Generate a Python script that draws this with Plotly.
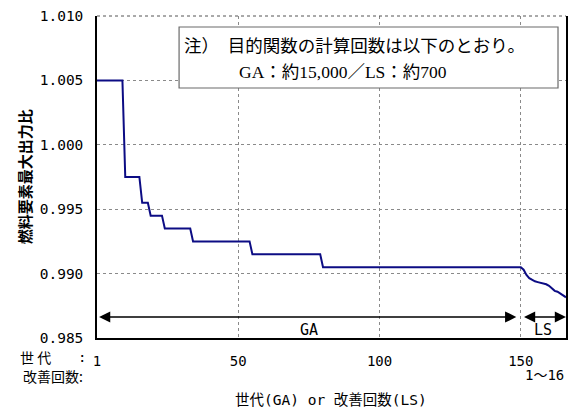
import plotly.graph_objects as go

# GA: generation index at which each improvement of the best individual appears, and its value
ga_improve_step = [0, 10, 16, 19, 24, 34, 55, 80]
ga_improve_value = [1.005, 0.9975, 0.9955, 0.9945, 0.9935, 0.9925, 0.9915, 0.9905]
ga_last_step = 150

# LS: value after each of the 16 local-search improvements
ls_value = [0.99030, 0.98990, 0.98965, 0.98950, 0.98940, 0.98934, 0.98930, 0.98925,
            0.98917, 0.98905, 0.98885, 0.98866, 0.98859, 0.98845, 0.98830, 0.98816]

x_tick_pos = [0, 50, 100, 150]
x_tick_text = ["1", "50", "100", "150"]
y_tick_vals = [0.985, 0.990, 0.995, 1.000, 1.005, 1.010]
y_tick_text = ["0.985", "0.990", "0.995", "1.000", "1.005", "1.010"]

# best-so-far per generation (held constant between improvements)
steps, values = [], []
for g in range(ga_last_step + 1):
    level = ga_improve_value[0]
    for s, v in zip(ga_improve_step, ga_improve_value):
        if g >= s:
            level = v
    steps.append(g)
    values.append(level)
for i, v in enumerate(ls_value, start=1):
    steps.append(ga_last_step + i)
    values.append(v)
x_max = ga_last_step + len(ls_value)

W, H = 575, 410
L, R, T, B = 96.8, 566.5, 16, 338

def px(xp):
    return (xp - L) / (R - L)

def py(yp):
    return (B - yp) / (B - T)

MONO = "DejaVu Sans Mono, Noto Sans CJK JP"
JP = "Noto Sans CJK JP"
SERIF = "Liberation Serif, Noto Sans CJK JP"

fig = go.Figure()
fig.add_trace(go.Scatter(
    x=steps, y=values, mode="lines",
    line=dict(color="#0c0c84", width=2),
    showlegend=False, hoverinfo="skip",
))

def label(xp, yp, text, font, xanchor="center", size=15, **kw):
    return dict(x=px(xp), y=py(yp), xref="paper", yref="paper", text=text,
                xanchor=xanchor, yanchor="middle", showarrow=False,
                font=dict(family=font, size=size, color="#000"), **kw)

annotations = []
arrow_y = 0.98663
# GA and LS range arrows
for x0, x1 in [(0.2, ga_last_step - 1.6), (ga_last_step + 0.6, x_max)]:
    annotations.append(dict(
        x=x1, y=arrow_y, ax=x0, ay=arrow_y, xref="x", yref="y", axref="x", ayref="y",
        text="", showarrow=True, arrowhead=2, arrowside="end+start",
        arrowsize=1.6, arrowwidth=1.4, arrowcolor="#000",
    ))
annotations.append(dict(x=ga_last_step / 2, y=py(330), xref="x", yref="paper", text="GA",
                        xanchor="center", yanchor="middle",
                        showarrow=False, font=dict(family=MONO, size=15, color="#000")))
annotations.append(dict(x=(ga_last_step + x_max) / 2, y=py(330), xref="x", yref="paper", text="LS",
                        xanchor="center", yanchor="middle",
                        showarrow=False, font=dict(family=MONO, size=15, color="#000")))

# note box text
annotations.append(label(182, 46, "注）　目的関数の計算回数は以下のとおり。", SERIF, "left", 17.5))
annotations.append(label(237, 72, "GA：約15,000／LS：約700", SERIF, "left", 17.5))

# row captions under the x axis
annotations.append(label(35, 357, "世 代", JP, "center", 14))
annotations.append(label(81.5, 357, ":", MONO, "center", 14))
annotations.append(label(85, 376, "改善回数:", JP, "right", 14))
annotations.append(label(567, 375, "1～%d" % len(ls_value), MONO, "right", 14))

# axis titles
annotations.append(label(331, 400, "世代(GA) or 改善回数(LS)", MONO, "center", 14.5))
annotations.append(label(24, 177, "<b>燃料要素最大出力比</b>", JP, "center", 15, textangle=-90))

shapes = [
    # dotted top edge
    dict(type="line", xref="paper", yref="paper", x0=0, x1=1, y0=1, y1=1,
         line=dict(color="#555", width=1, dash="dot")),
    # note box
    dict(type="rect", xref="paper", yref="paper", x0=px(179), x1=px(558.5), y0=py(27), y1=py(88),
         line=dict(color="#6a6a6a", width=1.2), fillcolor="white", layer="above"),
]

fig.update_layout(
    width=W, height=H,
    margin=dict(l=L, r=W - R, t=T, b=H - B),
    paper_bgcolor="white", plot_bgcolor="white",
    showlegend=False,
    xaxis=dict(
        range=[0, x_max], tickmode="array", tickvals=x_tick_pos, ticktext=x_tick_text,
        showgrid=True, gridcolor="#8a8a8a", griddash="dot", gridwidth=1,
        showline=True, linecolor="#000", linewidth=1.5, mirror=False,
        ticks="", ticklabelstandoff=9, zeroline=False,
        tickfont=dict(family=MONO, size=14, color="#000"),
    ),
    yaxis=dict(
        range=[0.985, 1.010], tickmode="array", tickvals=y_tick_vals, ticktext=y_tick_text,
        showgrid=True, gridcolor="#8a8a8a", griddash="dot", gridwidth=1,
        showline=True, linecolor="#000", linewidth=1.5, mirror=True,
        ticks="", ticklabelstandoff=9, zeroline=False,
        tickfont=dict(family=MONO, size=14.5, color="#000"),
    ),
    annotations=annotations,
    shapes=shapes,
)

fig.write_html("out.html")
